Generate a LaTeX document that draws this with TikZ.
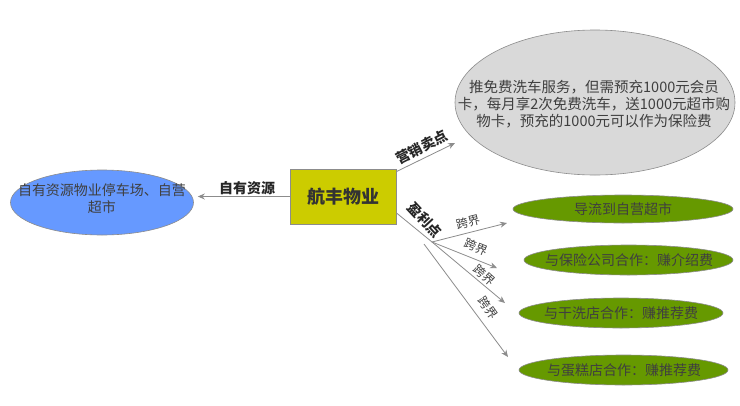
\documentclass[tikz,border=0pt]{standalone}
\usepackage{fontspec}
\setmainfont{Noto Sans CJK SC}
\usetikzlibrary{shapes.geometric,arrows.meta}
\definecolor{txtgrey}{HTML}{3F3F3F}
\definecolor{linegrey}{HTML}{8C8C8C}
\definecolor{blueell}{HTML}{6699FF}
\definecolor{boxyellow}{HTML}{CCCC00}
\definecolor{greyell}{HTML}{D9D9D9}
\definecolor{greenell}{HTML}{669900}
\begin{document}
\begin{tikzpicture}[x=1pt,y=-1pt,
  every node/.style={text=txtgrey},
  t14/.style={font=\fontsize{14}{17}\selectfont, align=center, inner sep=0pt},
  lab/.style={font=\bfseries\fontsize{14}{16}\selectfont, text=black!85, inner sep=0pt},
  kj/.style={font=\fontsize{12}{14}\selectfont, inner sep=0pt},
  ell/.style={ellipse, draw=linegrey, line width=0.6pt, inner sep=0pt},
  conn/.style={draw=linegrey, line width=0.8pt, -{Stealth[length=7pt,width=6pt]}}
]
\useasboundingbox[fill=white] (0,0) rectangle (740,405);

% central box
\node[rectangle, draw=linegrey, line width=0.6pt, fill=boxyellow, minimum width=106pt, minimum height=55pt,
  font=\bfseries\fontsize{18}{20}\selectfont, text=black!80] (hf) at (343,196.5) {航丰物业};

% left ellipse
\node[ell, fill=blueell, minimum width=183pt, minimum height=65pt] (own) at (102,202.5) {};
\node[t14] (ownt) at (102,198.5) {自有资源物业停车场、自营\\超市};
\draw[conn, shorten >=4pt] (hf.west) -- (own.east |- hf.west);
\node[lab] (ownl) at (247,188) {自有资源};

% top grey ellipse
\node[ell, fill=greyell, minimum width=280pt, minimum height=145pt] (sell) at (595,102.5) {};
\node[t14, font=\fontsize{14.5}{17}\selectfont] (sellt) at (594,104)
  {推免费洗车服务，但需预充1000元会员\\卡，每月享2次免费洗车，送1000元超市购\\物卡，预充的1000元可以作为保险费};
\coordinate (selltip) at (455,143);
\draw[conn] (hf.25) -- (selltip);
\node[lab, rotate=27] (selll) at (422,147) {营销卖点};

% profit hub
\coordinate (hub) at (432,242);
\coordinate (hub4) at (424,244);
\draw[draw=linegrey, line width=0.8pt] (hf.-17) -- (hub);
\node[lab, rotate=-47] (profl) at (425,220) {盈利点};

% green ellipses
\node[ell, fill=greenell, minimum width=220pt, minimum height=28pt] (g1) at (623,209) {};
\node[t14] (g1t) at (623,209) {导流到自营超市};
\node[ell, fill=greenell, minimum width=209pt, minimum height=30pt] (g2) at (628.5,260) {};
\node[t14] (g2t) at (629,260) {与保险公司合作：赚介绍费};
\node[ell, fill=greenell, minimum width=204pt, minimum height=30pt] (g3) at (621,313) {};
\node[t14] (g3t) at (621,313) {与干洗店合作：赚推荐费};
\node[ell, fill=greenell, minimum width=209pt, minimum height=30pt] (g4) at (623.5,370) {};
\node[t14] (g4t) at (624,370) {与蛋糕店合作：赚推荐费};

% cross-border arrows
\coordinate (t1) at (507,223);
\coordinate (t2) at (497,268);
\coordinate (t3) at (505,303);
\coordinate (t4) at (508,357);
\draw[conn] (hub) -- (t1);
\draw[conn] (hub) -- (t2);
\draw[conn] (hub) -- (t3);
\draw[conn] (hub4) -- (t4);
\node[kj, rotate=14] (k1) at (468,222) {跨界};
\node[kj, rotate=-22] (k2) at (476,247) {跨界};
\node[kj, rotate=-42] (k3) at (484,275) {跨界};
\node[kj, rotate=-55] (k4) at (488,308) {跨界};
\end{tikzpicture}
\end{document}
